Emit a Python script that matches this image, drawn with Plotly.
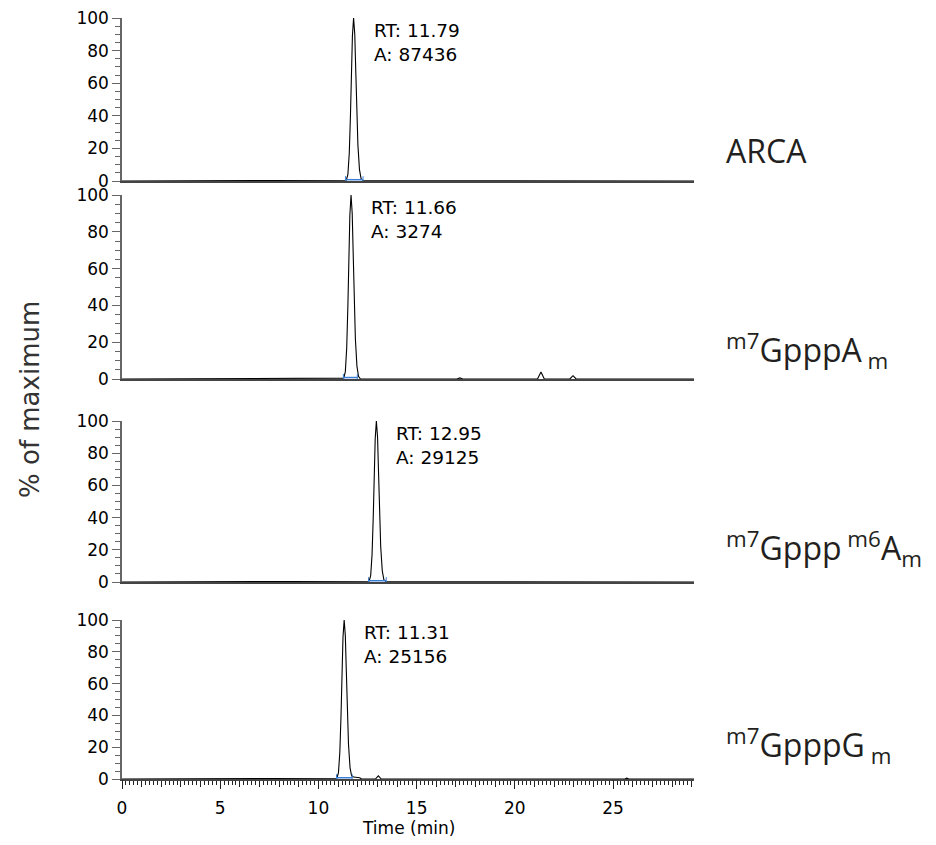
import plotly.graph_objects as go

# ---------------- data ----------------
x_max = 29.12
retention_times = [11.79, 11.66, 12.95, 11.31]
peak_areas = [87436, 3274, 29125, 25156]
sample_names = [
    "ARCA",
    "<sup>m7</sup>GpppA<sub>\u00a0m</sub>",
    "<sup>m7</sup>Gppp<sup>\u00a0m6</sup>A<sub>m</sub>",
    "<sup>m7</sup>GpppG<sub>\u00a0m</sub>",
]

t_arca = [0, 11.42, 11.50, 11.57, 11.63, 11.68, 11.73, 11.79, 11.85, 11.90, 11.95, 12.01, 12.09, 12.17, 12.27, 29.12]
y_arca = [0, 0.5, 4, 17, 40, 65, 89, 100, 90, 68, 44, 22, 7, 1.5, 0.3, 0]

t_gpppa = [0, 11.29, 11.37, 11.44, 11.50, 11.55, 11.60, 11.66, 11.72, 11.77, 11.82, 11.88, 11.96, 12.04, 12.14,
           17.05, 17.2, 17.35, 21.15, 21.33, 21.5, 22.8, 22.96, 23.12, 29.12]
y_gpppa = [0, 0.5, 4, 17, 40, 65, 89, 100, 90, 68, 44, 22, 7, 1.5, 0,
           0, 0.6, 0, 0, 3.8, 0, 0, 1.8, 0, 0]

t_m6a = [0, 12.58, 12.66, 12.73, 12.79, 12.84, 12.89, 12.95, 13.01, 13.06, 13.11, 13.17, 13.25, 13.33, 13.43, 29.12]
y_m6a = [0, 0.5, 4, 17, 40, 65, 89, 100, 90, 68, 44, 22, 7, 1.5, 0.3, 0]

t_gpppg = [0, 10.94, 11.02, 11.09, 11.15, 11.20, 11.25, 11.31, 11.37, 11.42, 11.47, 11.53, 11.61, 11.69, 11.79,
           11.9, 12.1, 12.2, 12.9, 13.05, 13.2, 25.6, 25.7, 25.8, 29.12]
y_gpppg = [0, 0.5, 4, 17, 40, 65, 89, 100, 90, 68, 44, 22, 7, 2, 1.2,
           1, 0.8, 0, 0, 2, 0, 0, 0.5, 0, 0]

blue_lo = [11.38, 11.27, 12.55, 10.92]
blue_hi = [12.27, 11.98, 13.45, 11.72]

traces_t = [t_arca, t_gpppa, t_m6a, t_gpppg]
traces_y = [y_arca, y_gpppa, y_m6a, y_gpppg]

# ---------------- layout geometry (pixels) ----------------
W, H = 936, 845
x_left_px, x_right_px = 122, 694
panels_px = [(181, 18), (379, 195), (582, 421), (779, 620)]  # (y of 0, y of 100)
label_y_px = [150, 350, 548, 745]

fig = go.Figure()
layout = dict(
    width=W, height=H, margin=dict(l=0, r=0, t=0, b=0, autoexpand=False),
    paper_bgcolor="white", plot_bgcolor="white", showlegend=False,
    annotations=[],
)

tick_font = dict(family="DejaVu Sans", size=17, color="black")

for i in range(4):
    n = i + 1
    xa = "x" if n == 1 else f"x{n}"
    ya = "y" if n == 1 else f"y{n}"
    fig.add_trace(go.Scatter(x=traces_t[i], y=traces_y[i], mode="lines",
                             line=dict(color="black", width=1.1),
                             xaxis=xa, yaxis=ya, hoverinfo="skip"))
    fig.add_trace(go.Scatter(x=[blue_lo[i], blue_hi[i]], y=[0.8, 0.8], mode="lines+markers",
                             line=dict(color="#3b7fd6", width=1.5),
                             marker=dict(symbol="line-ns", size=5, line=dict(color="#3b7fd6", width=1)),
                             xaxis=xa, yaxis=ya, hoverinfo="skip"))
    y0px, y100px = panels_px[i]
    dom_y = [1 - y0px / H, 1 - y100px / H]
    xkey = "xaxis" if n == 1 else f"xaxis{n}"
    ykey = "yaxis" if n == 1 else f"yaxis{n}"
    xdict = dict(domain=[x_left_px / W, x_right_px / W], range=[0, x_max], anchor=ya,
                 showline=True, linecolor="#444", linewidth=2, showgrid=False, zeroline=False,
                 fixedrange=True, automargin=False)
    if n == 4:
        xdict.update(ticks="outside", dtick=1, tick0=0, ticklen=6, tickwidth=1, tickcolor="#222",
                     showticklabels=False,
                     minor=dict(dtick=0.2, tick0=0, ticklen=3.5, tickwidth=1, tickcolor="#222", ticks="outside"))
    else:
        xdict.update(ticks="", showticklabels=False)
    layout[xkey] = xdict
    layout[ykey] = dict(domain=dom_y, range=[0, 100], anchor=xa,
                        showline=True, linecolor="#666", linewidth=1.5, showgrid=False, zeroline=False,
                        ticks="outside", tick0=0, dtick=20, ticklen=8, tickwidth=1, tickcolor="#666",
                        minor=dict(dtick=5, ticklen=5, tickwidth=1, tickcolor="#666", ticks="outside"),
                        tickfont=tick_font, fixedrange=True, automargin=False)
    layout["annotations"].append(dict(
        x=retention_times[i], y=100, xref=xa, yref=ya, xanchor="left", yanchor="top",
        xshift=18, showarrow=False, align="left",
        text=f"RT: {retention_times[i]:.2f}<br>A: {peak_areas[i]}",
        font=dict(family="DejaVu Sans", size=18.5, color="black")))
    layout["annotations"].append(dict(
        x=724 / W, y=1 - label_y_px[i] / H, xref="paper", yref="paper",
        xanchor="left", yanchor="middle", showarrow=False,
        text=sample_names[i],
        font=dict(family="Open Sans", size=32, color="#231f20")))

# overlay axis for the labelled 5-min ticks of the bottom panel
fig.add_trace(go.Scatter(x=[0], y=[0], mode="markers", marker=dict(opacity=0),
                         xaxis="x5", yaxis="y4", hoverinfo="skip"))
layout["xaxis5"] = dict(overlaying="x4", anchor="y4", side="bottom", range=[0, x_max],
                        ticks="outside", dtick=5, tick0=0, ticklen=9, tickwidth=1, tickcolor="#222",
                        ticklabelstandoff=5,
                        showline=False, showgrid=False, zeroline=False, tickfont=tick_font,
                        fixedrange=True, automargin=False)

layout["annotations"].append(dict(
    x=30 / W, y=1 - 400 / H, xref="paper", yref="paper", xanchor="center", yanchor="middle",
    textangle=-90, showarrow=False, text="% of maximum",
    font=dict(family="DejaVu Sans", size=26, color="#333")))
layout["annotations"].append(dict(
    x=408 / W, y=1 - 828 / H, xref="paper", yref="paper", xanchor="center", yanchor="middle",
    showarrow=False, text="Time (min)",
    font=dict(family="DejaVu Sans", size=17, color="black")))

fig.update_layout(**layout)
fig.write_html("out.html", config={"displayModeBar": False},
               post_script="document.body.style.margin='0';document.body.style.padding='0';")
